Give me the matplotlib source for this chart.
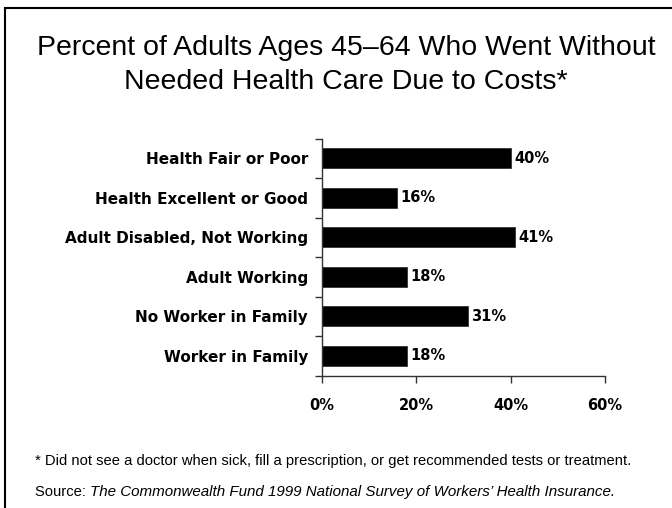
import matplotlib
matplotlib.use("Agg")
import matplotlib.pyplot as plt
from matplotlib.patches import Rectangle
from matplotlib.ticker import FuncFormatter

categories = [
    "Health Fair or Poor",
    "Health Excellent or Good",
    "Adult Disabled, Not Working",
    "Adult Working",
    "No Worker in Family",
    "Worker in Family",
]
values = [40, 16, 41, 18, 31, 18]
x_ticks = [0, 20, 40, 60]

title_lines = ["Percent of Adults Ages 45–64 Who Went Without",
               "Needed Health Care Due to Costs*"]
footnote = "* Did not see a doctor when sick, fill a prescription, or get recommended tests or treatment."

fig = plt.figure(figsize=(6.72, 5.08), dpi=100)
fig.patch.set_facecolor("white")

# frame open on the right and bottom edges
fig.patches.append(Rectangle((5 / 672, -0.05), 1.2, (508 - 8) / 508 + 0.05,
                             transform=fig.transFigure, fill=False,
                             edgecolor="black", linewidth=1.5))

ax = fig.add_axes([322 / 672, (508 - 375.5) / 508, 283 / 672, 237 / 508])
n = len(categories)
ypos = list(range(n))
ax.barh(ypos, values, height=0.5, color="black", edgecolor="#333333", linewidth=0.6)
ax.set_xlim(0, 60)
ax.set_ylim(n - 0.5, -0.5)

for sp in ("top", "right"):
    ax.spines[sp].set_visible(False)
for sp in ("left", "bottom"):
    ax.spines[sp].set_color("#333333")
    ax.spines[sp].set_linewidth(1.0)

ax.set_xticks(x_ticks)
ax.xaxis.set_major_formatter(FuncFormatter(lambda v, p: f"{v:.0f}%"))
ax.tick_params(axis="x", direction="out", length=5, width=1.0, color="#333333",
               pad=11, labelsize=10.5)
for lab in ax.get_xticklabels():
    lab.set_fontweight("bold")

# category ticks sit between bars; labels sit at bar centres
ax.set_yticks([i - 0.5 for i in range(n + 1)])
ax.set_yticklabels([])
ax.set_yticks(ypos, minor=True)
ax.set_yticklabels(categories, minor=True, fontsize=11, fontweight="bold")
ax.tick_params(axis="y", which="major", direction="out", length=5, width=1.0, color="#333333")
ax.tick_params(axis="y", which="minor", length=0, pad=10)

for y, v in zip(ypos, values):
    ax.text(v + 0.7, y, f"{v}%", va="center", ha="left", fontsize=10.5, fontweight="bold")

for line, ypx in zip(title_lines, (48, 82)):
    fig.text(346 / 672, 1 - ypx / 508, line, ha="center", va="center",
             fontsize=20.5, family="Liberation Sans")

fig.text(35 / 672, 1 - 461 / 508, footnote, ha="left", va="center",
         fontsize=10.6, family="Liberation Sans")
src = fig.text(35 / 672, 1 - 492 / 508, "Source: ", ha="left", va="center",
               fontsize=10.6, family="Liberation Sans")
fig.canvas.draw()
bb = src.get_window_extent()
fig.text(bb.x1 / fig.bbox.width, 1 - 492 / 508,
         "The Commonwealth Fund 1999 National Survey of Workers’ Health Insurance.",
         ha="left", va="center", fontsize=10.9, family="Liberation Sans", style="italic")

fig.savefig("out.png", dpi=100, facecolor="white")
